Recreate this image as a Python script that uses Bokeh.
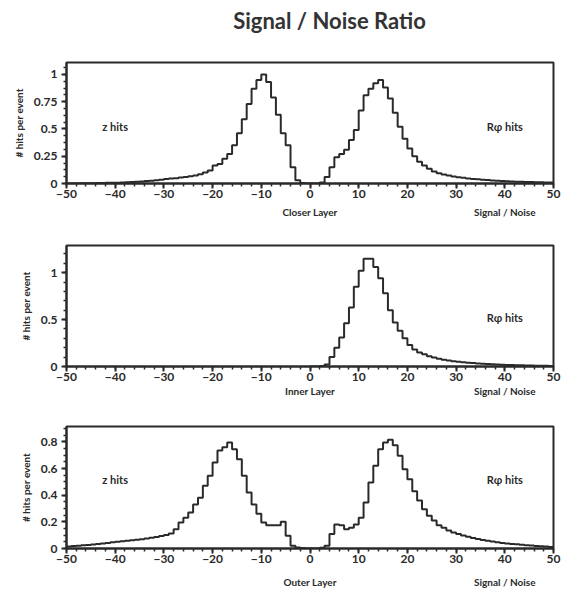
from bokeh.plotting import figure
from bokeh.models import (Range1d, FixedTicker, NumeralTickFormatter, Label,
                          LinearAxis)
from bokeh.layouts import column
from bokeh.embed import file_html
from bokeh.resources import INLINE

# ---------------- data ----------------
# histogram bins are 1 unit wide; z bins cover -50..0, R-phi bins cover 0..50
z_edges = list(range(-50, 1))
r_edges = list(range(0, 51))

closer_z = [0.000, 0.001, 0.001, 0.002, 0.002, 0.003, 0.004, 0.005, 0.006, 0.007,
            0.008, 0.010, 0.012, 0.014, 0.016, 0.019, 0.022, 0.026, 0.030, 0.035,
            0.041, 0.045, 0.049, 0.054, 0.060, 0.066, 0.074, 0.085, 0.100, 0.120,
            0.165, 0.180, 0.227, 0.270, 0.350, 0.460, 0.590, 0.730, 0.870, 0.950,
            1.000, 0.930, 0.790, 0.630, 0.460, 0.350, 0.150, 0.030, 0.005, 0.000]
closer_r = [0.000, 0.000, 0.010, 0.060, 0.150, 0.240, 0.270, 0.310, 0.400, 0.490,
            0.670, 0.810, 0.870, 0.920, 0.950, 0.880, 0.780, 0.650, 0.520, 0.410,
            0.320, 0.250, 0.200, 0.165, 0.135, 0.110, 0.095, 0.082, 0.073, 0.065,
            0.058, 0.052, 0.047, 0.042, 0.038, 0.034, 0.031, 0.028, 0.025, 0.023,
            0.021, 0.019, 0.017, 0.015, 0.014, 0.013, 0.012, 0.011, 0.010, 0.009]

inner_r = [0.000, 0.000, 0.005, 0.020, 0.100, 0.200, 0.310, 0.460, 0.630, 0.850,
           1.020, 1.150, 1.150, 1.060, 0.940, 0.780, 0.600, 0.470, 0.380, 0.300,
           0.230, 0.180, 0.150, 0.130, 0.110, 0.095, 0.083, 0.073, 0.064, 0.056,
           0.050, 0.045, 0.040, 0.036, 0.032, 0.029, 0.026, 0.023, 0.021, 0.019,
           0.017, 0.015, 0.014, 0.012, 0.011, 0.010, 0.009, 0.008, 0.007, 0.006]

outer_z = [0.015, 0.018, 0.021, 0.024, 0.027, 0.030, 0.034, 0.038, 0.042, 0.046,
           0.050, 0.054, 0.058, 0.062, 0.066, 0.070, 0.075, 0.080, 0.086, 0.093,
           0.102, 0.113, 0.145, 0.195, 0.230, 0.270, 0.330, 0.380, 0.470, 0.545,
           0.645, 0.735, 0.760, 0.795, 0.745, 0.670, 0.545, 0.420, 0.330, 0.260,
           0.195, 0.175, 0.175, 0.175, 0.200, 0.095, 0.020, 0.008, 0.003, 0.000]
outer_r = [0.000, 0.000, 0.005, 0.020, 0.108, 0.180, 0.175, 0.145, 0.155, 0.180,
           0.230, 0.345, 0.495, 0.620, 0.745, 0.795, 0.815, 0.775, 0.695, 0.595,
           0.520, 0.430, 0.360, 0.295, 0.245, 0.210, 0.175, 0.155, 0.135, 0.120,
           0.108, 0.098, 0.088, 0.079, 0.071, 0.064, 0.058, 0.052, 0.047, 0.042,
           0.038, 0.034, 0.031, 0.028, 0.025, 0.022, 0.019, 0.017, 0.015, 0.011]

x_ticks = [-50, -40, -30, -20, -10, 0, 10, 20, 30, 40, 50]
x_tick_labels = ["\u221250", "\u221240", "\u221230", "\u221220", "\u221210",
                 "0", "10", "20", "30", "40", "50"]

closer_y_ticks = [0, 0.25, 0.5, 0.75, 1]
inner_y_ticks = [0, 0.5, 1]
outer_y_ticks = [0, 0.2, 0.4, 0.6, 0.8]

title_text = "Signal / Noise Ratio"
y_label = "# hits per event"
x_label_right = "Signal / Noise"
layer_names = ["Closer Layer", "Inner Layer", "Outer Layer"]
z_text = "z hits"
r_text = "R\u03c6 hits"

# ---------------- styling ----------------
FONT = "Lato"
INK = "#2a2a2a"


def panel(y_max, y_ticks, n_minor, layer, top, frame_h, bottom, label_standoff,
          with_z):
    p = figure(frame_width=487, frame_height=frame_h,
               min_border_left=66, min_border_right=16,
               min_border_top=top, min_border_bottom=bottom,
               x_range=Range1d(-50, 50), y_range=Range1d(0, y_max),
               output_backend="svg", toolbar_location=None)
    p.grid.visible = False
    p.outline_line_color = INK
    p.outline_line_width = 2
    p.background_fill_color = "white"
    p.border_fill_color = "white"

    xa = p.xaxis[0]
    xa.ticker = FixedTicker(ticks=x_ticks,
                            minor_ticks=list(range(-50, 51, 2)))
    xa.major_label_overrides = dict(zip(x_ticks, x_tick_labels))

    ya = p.yaxis[0]
    minor = []
    step = (y_ticks[1] - y_ticks[0]) / n_minor
    v = 0.0
    while v <= y_max + 1e-9:
        minor.append(round(v, 5))
        v += step
    ya.ticker = FixedTicker(ticks=y_ticks, minor_ticks=minor)
    ya.formatter = NumeralTickFormatter(format="0.[00]")
    ya.axis_label = y_label
    ya.axis_label_standoff = 6

    for ax in (xa, ya):
        ax.axis_line_color = INK
        ax.axis_line_width = 2
        ax.major_tick_line_color = INK
        ax.major_tick_line_width = 2
        ax.minor_tick_line_color = INK
        ax.minor_tick_line_width = 1.5
        ax.major_tick_out = 5
        ax.major_tick_in = 0
        ax.minor_tick_out = 3
        ax.minor_tick_in = 0
        ax.major_label_text_font = FONT
        ax.major_label_text_font_style = "bold"
        ax.major_label_text_font_size = "12px"
        ax.major_label_text_color = INK
        ax.axis_label_text_font = FONT
        ax.axis_label_text_font_style = "bold"
        ax.axis_label_text_font_size = "10px"
        ax.axis_label_text_color = INK
    xa.major_label_standoff = 1
    ya.major_label_standoff = 4

    # second, line-less axis that carries the layer name and "Signal / Noise"
    name_ticks = [0, 40]
    lab = LinearAxis(ticker=FixedTicker(ticks=name_ticks, minor_ticks=[]),
                     major_label_overrides=dict(zip(name_ticks, [layer, x_label_right])))
    lab.axis_line_color = None
    lab.major_tick_line_color = None
    lab.minor_tick_line_color = None
    lab.major_tick_out = 0
    lab.major_tick_in = 0
    lab.major_label_standoff = label_standoff
    lab.major_label_text_font = FONT
    lab.major_label_text_font_style = "bold"
    lab.major_label_text_font_size = "10px"
    lab.major_label_text_color = INK
    p.add_layout(lab, "below")

    if with_z:
        p.add_layout(Label(x=-40, y=0.52, text=z_text, text_align="center",
                           text_baseline="middle", text_font=FONT,
                           text_font_style="bold", text_font_size="11px",
                           text_color=INK))
    p.add_layout(Label(x=40, y=0.52, text=r_text, text_align="center",
                       text_baseline="middle", text_font=FONT,
                       text_font_style="bold", text_font_size="11px",
                       text_color=INK))
    return p


def draw(p, edges, vals):
    p.step(x=edges, y=vals + [vals[-1]], mode="after",
           line_color=INK, line_width=2)


# header strip carrying the main title, sharing the panels' x scale
HEAD_H = 40
head = figure(frame_width=487, frame_height=HEAD_H,
              min_border_left=66, min_border_right=16,
              min_border_top=0, min_border_bottom=0,
              x_range=Range1d(-50, 50), y_range=Range1d(0, HEAD_H),
              output_backend="svg", toolbar_location=None)
head.axis.visible = False
head.grid.visible = False
head.outline_line_color = None
head.add_layout(Label(x=4, y=HEAD_H - 20, text=title_text,
                      text_align="center", text_baseline="middle",
                      text_font=FONT, text_font_size="22px",
                      text_font_style="bold", text_color="#333333"))

p1 = panel(1.11, closer_y_ticks, 4, layer_names[0], 62 - HEAD_H, 121, 42, 5, True)
draw(p1, z_edges + r_edges[1:], closer_z + closer_r)

p2 = panel(1.29, inner_y_ticks, 5, layer_names[1], 20, 121, 40, 1, False)
draw(p2, r_edges, inner_r)

p3 = panel(0.915, outer_y_ticks, 4, layer_names[2], 20, 122, 44, 10, True)
draw(p3, z_edges + r_edges[1:], outer_z + outer_r)

layout = column(head, p1, p2, p3, spacing=0)
open("out.html", "w").write(file_html(layout, INLINE))
